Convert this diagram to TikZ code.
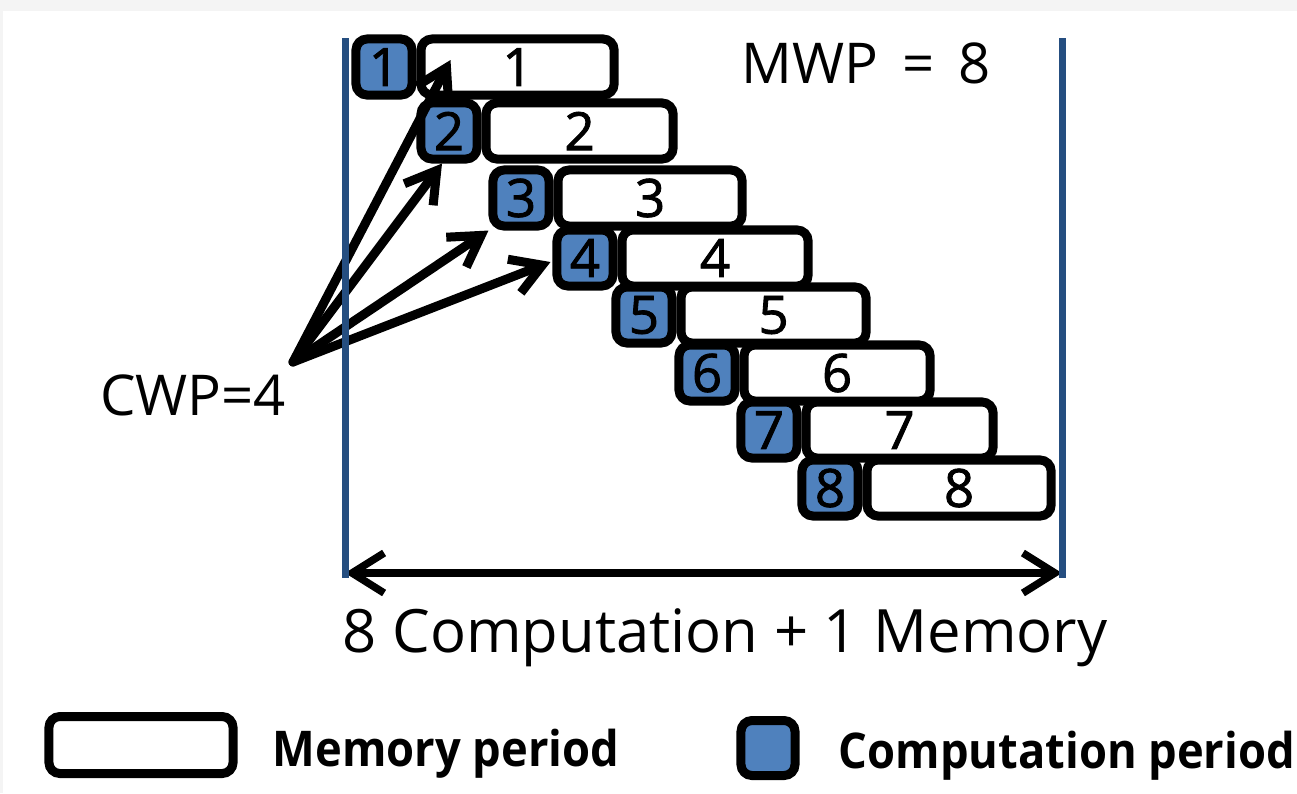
\documentclass[tikz,border=0pt]{standalone}
\usepackage{fontspec}
\setmainfont{Open Sans}
\newfontfamily\boxfont[FakeBold=1.6]{Open Sans}
\newfontfamily\legfont[FakeStretch=0.92]{Open Sans}
\usetikzlibrary{arrows.meta,positioning,calc}
\definecolor{compblue}{RGB}{79,129,189}
\definecolor{lineblue}{RGB}{37,78,128}
\definecolor{framegray}{RGB}{244,244,244}
\begin{document}
\begin{tikzpicture}[x=0.01cm,y=-0.01cm,
  compbox/.style={draw,line width=0.09cm,rounded corners=0.11cm,minimum width=0.56cm,minimum height=0.56cm,inner sep=0pt,fill=compblue,font=\boxfont\fontsize{15pt}{16pt}\selectfont},
  membox/.style={draw,line width=0.09cm,rounded corners=0.11cm,minimum width=1.87cm,minimum height=0.56cm,inner sep=0pt,fill=white,font=\boxfont\fontsize{15pt}{16pt}\selectfont},
  fanarrow/.style={line width=0.09cm,line cap=round,-{Straight Barb[length=0.3cm,width=0.36cm]}},
  spanarrow/.style={line width=0.075cm,line cap=round,{Straight Barb[length=0.32cm,width=0.4cm]}-{Straight Barb[length=0.32cm,width=0.4cm]}},
  bluebar/.style={draw=lineblue,line width=0.07cm},
  bigtext/.style={font=\fontsize{16pt}{18pt}\selectfont},
  legtext/.style={font=\legfont\fontsize{14pt}{16pt}\bfseries\selectfont,anchor=base west,inner sep=0pt}]
  \useasboundingbox (0,0) rectangle (1297,793);
  \fill[framegray] (0,0) rectangle (1297,793);
  \fill[white] (3,11) rectangle (1297,793);

  \foreach \i/\x/\y/\w in {1/384/67/1.93,2/449/131/1.87,3/521/198/1.84,4/585/258/1.86,5/644/315/1.85,6/707/373/1.86,7/769/430/1.87,8/830/488/1.84} {
    \node[compbox] (c\i) at (\x,\y) {\i};
    \node[membox,minimum width=\w cm,right=0pt of c\i] (m\i) {\i};
  }

  \node[bigtext,anchor=base] (mwp) at (866,83) {MWP \,=\, 8};
  \node[bigtext,anchor=base] (cwp) at (193,415) {CWP=4};
  \node[bigtext,anchor=base,font=\fontsize{17pt}{19pt}\selectfont] (total) at (725,652) {8 Computation + 1 Memory};

  \coordinate (fan) at (293,362);
  \draw[fanarrow] (fan) -- ($(m1.west)+(34,-7)$);
  \draw[fanarrow] (fan) -- ($(c2.south)+(-7,0)$);
  \draw[fanarrow] (fan) -- (c3.south west);
  \draw[fanarrow] (fan) -- ($(c4.west)+(-2,4)$);

  \coordinate (lt) at (345,38); \coordinate (lb) at (345,578);
  \coordinate (rt) at (1062,38); \coordinate (rb) at (1062,578);
  \coordinate (sl) at (345,573); \coordinate (sr) at (1062,573);
  \draw[spanarrow] (sl) -- (sr);
  \draw[bluebar] (lt) -- (lb);
  \draw[bluebar] (rt) -- (rb);

  \node[membox,minimum width=1.84cm,minimum height=0.57cm] (legmem) at (141,745) {};
  \node[legtext] (legmemtxt) at (272,766) {Memory period};
  \node[compbox,minimum width=0.54cm,minimum height=0.55cm] (legcomp) at (768,748) {};
  \node[legtext] (legcomptxt) at (838,768) {Computation period};
\end{tikzpicture}
\end{document}
